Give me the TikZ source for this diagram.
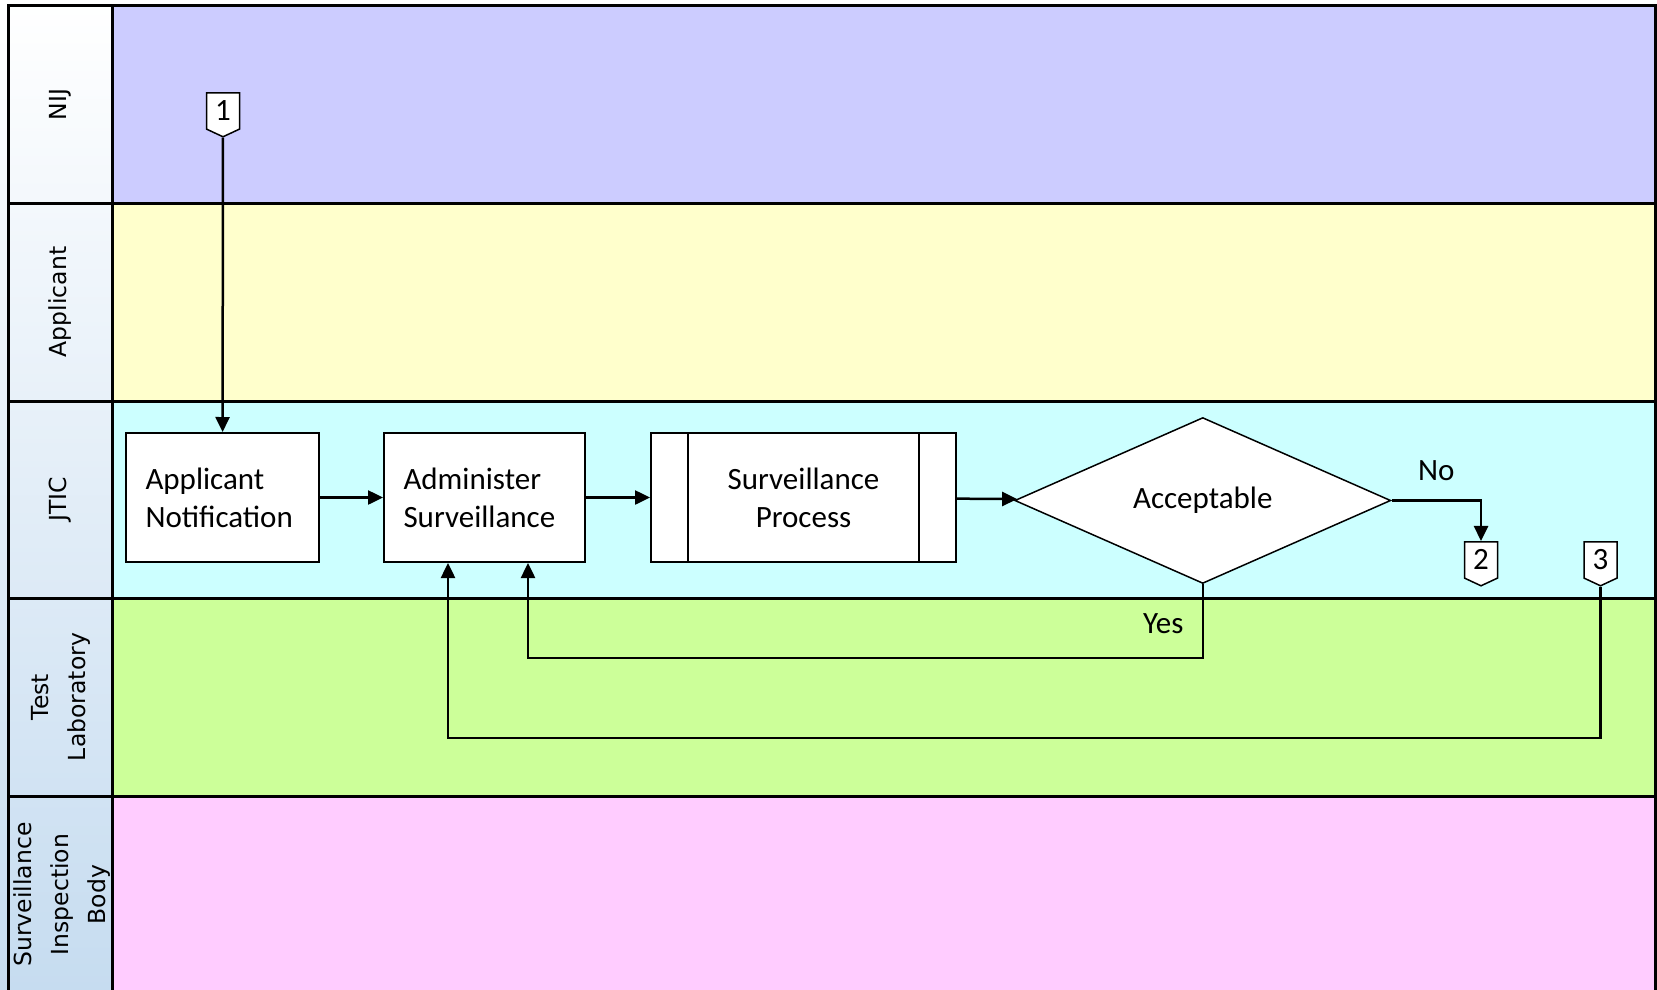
\documentclass[tikz,border=0pt]{standalone}
\usepackage{fontspec}
\setmainfont{Carlito}
\newfontfamily\lanefamily{DejaVu Sans}
\usetikzlibrary{shapes, shapes.geometric, shapes.symbols, arrows.meta, positioning}

\definecolor{nijfill}{HTML}{CCCCFF}
\definecolor{appfill}{HTML}{FFFFCC}
\definecolor{jticfill}{HTML}{CCFFFF}
\definecolor{labfill}{HTML}{CCFF99}
\definecolor{sibfill}{HTML}{FFCCFF}
\definecolor{headfill}{HTML}{C6DCF0}

\begin{document}
\begin{tikzpicture}[x=1pt, y=-1pt,
  lane/.style={draw, line width=3pt},
  lanelabel/.style={rotate=90, align=center, inner sep=0pt, font=\lanefamily\fontsize{23.5}{37}\selectfont},
  proc/.style={draw, fill=white, line width=2pt, minimum height=129pt, font=\fontsize{31}{38}\selectfont},
  decision/.style={diamond, draw, fill=white, line width=1.5pt, minimum width=376pt, minimum height=150pt, inner sep=0pt, font=\fontsize{31}{38}\selectfont},
  offpage/.style={signal, signal to=south, signal pointer angle=130, draw, fill=white, line width=1.5pt, minimum width=33pt, minimum height=40pt, inner sep=0pt, anchor=north, font=\fontsize{31}{36}\selectfont},
  tag/.style={inner sep=0pt, font=\fontsize{31}{38}\selectfont},
  flow/.style={line width=2.5pt, -{Triangle[length=15pt,width=14pt]}}]

  \path[use as bounding box, clip] (0,0) rectangle (1657,990);
  \shade[top color=white, middle color=white, bottom color=headfill] (0,0) rectangle (112,990);

  % swim lanes
  \draw[lane, fill=nijfill] (112,6) rectangle (1655,203);
  \draw[lane, fill=appfill] (112,203) rectangle (1655,401);
  \draw[lane, fill=jticfill] (112,401) rectangle (1655,598);
  \draw[lane, fill=labfill] (112,598) rectangle (1655,796);
  \draw[lane, fill=sibfill] (112,796) rectangle (1655,993);
  \draw[lane] (8,6) rectangle (112,203);
  \draw[lane] (8,203) rectangle (112,401);
  \draw[lane] (8,401) rectangle (112,598);
  \draw[lane] (8,598) rectangle (112,796);
  \draw[lane] (8,796) rectangle (112,993);

  \node[lanelabel] (lnij) at (60,104.5) {NIJ};
  \node[lanelabel] (lapp) at (60,302) {Applicant};
  \node[lanelabel] (ljtic) at (60,499.5) {JTIC};
  \node[lanelabel] (llab) at (61,697) {Test\\Laboratory};
  \node[lanelabel] (lsib) at (62,894.5) {Surveillance\\Inspection\\Body};

  % steps
  \node[proc, minimum width=193pt, text width=154pt, align=left] (an) at (222.5,497.5) {Applicant\\Notification};
  \node[proc, minimum width=201pt, text width=162pt, align=left, right=63pt of an] (as) {Administer\\Surveillance};
  \node[proc, minimum width=305pt, align=center, right=64pt of as] (sp) {Surveillance\\Process};
  \draw[line width=2pt] ([xshift=38pt]sp.north west) -- ([xshift=38pt]sp.south west);
  \draw[line width=2pt] ([xshift=-38pt]sp.north east) -- ([xshift=-38pt]sp.south east);
  \node[decision, right=57pt of sp, yshift=-3pt] (acc) {Acceptable};

  \node[offpage] (c1) at (223,92) {1};
  \node[offpage] (c2) at (1481,541) {2};
  \node[offpage] (c3) at (1600.5,541) {3};

  \coordinate (yesbend) at (528,658);
  \coordinate (backbend) at (448,738);

  \draw[flow] (c1) -- (an);
  \draw[flow] (an) -- (as);
  \draw[flow] (as) -- (sp);
  \draw[flow] (sp) -- (acc);
  \draw[flow] (acc) -| node[tag, pos=.25, above=19pt] (lno) {No} (c2);
  \draw[flow] (acc.south) |- node[tag, pos=.27, left=18pt] (lyes) {Yes} (yesbend) -- (yesbend |- as.south);
  \draw[flow] (c3) |- (backbend) -- (backbend |- as.south);
\end{tikzpicture}
\end{document}
